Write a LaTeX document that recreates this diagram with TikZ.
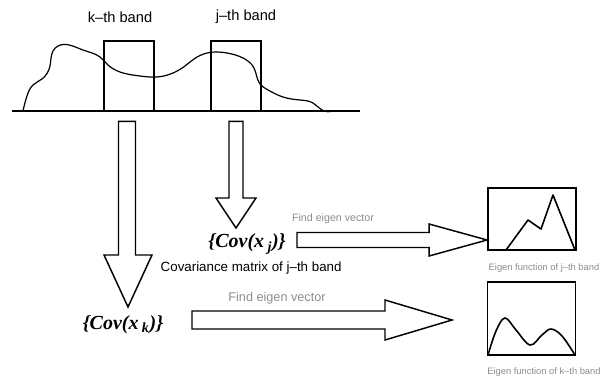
\documentclass[tikz,border=0pt]{standalone}
\usepackage{fontspec}
\setmainfont{Liberation Sans}
\newfontfamily\covfont{Liberation Serif}
\usetikzlibrary{hobby,calc}

\begin{document}
\begin{tikzpicture}[use Hobby shortcut, x=0.75pt, y=-0.75pt]
        \tikzset{bandbox/.style={
            draw,
            line width=2pt,
            minimum width=37.5pt,
            minimum height=52.5pt,
            inner sep=0pt
        }}
        \tikzset{chart/.style={
            draw,
            line width=1.4pt,
            minimum width=66pt,
            inner sep=0pt
        }}
        \tikzset{hollow/.style={
            draw,
            line width=1.1pt,
            fill=white,
            line join=miter
        }}
        \tikzset{bandlabel/.style={font=\fontsize{11}{13}\selectfont}}
        \tikzset{cov/.style={font=\fontsize{15}{17}\selectfont\covfont\bfseries\itshape}}
        \tikzset{faint/.style={text=black!45, font=\fontsize{7}{8}\selectfont}}
        \useasboundingbox (0,0) rectangle (606,378);

        % spectrum with the two bands
        \coordinate (axisL) at (12,111);
        \coordinate (axisR) at (360,111);
        \draw[line width=0.9pt] (axisL) -- (axisR);
        \draw[line width=0.9pt] (23,111) .. (27,96) .. (33,85) .. (42,79) .. (50,66) .. (53,51) .. (58,46)
            .. (83,50) .. (100,57) .. (108,65) .. (120,72) .. (140,76) .. (157,77) .. (173,73)
            .. (185,66) .. (194,59) .. (207,53) .. (227,53) .. (243,58) .. (254,68) .. (260,84)
            .. (268,90) .. (283,97) .. (300,100) .. (313,103) .. (322,110) .. (333,111);
        \node[bandbox] (kband) at (129,76) {};
        \node[bandbox] (jband) at (236,76) {};
        \node[bandlabel] (klabel) at (120,17) {k--th band};
        \node[bandlabel] (jlabel) at (246,17) {j--th band};

        % covariance matrices
        \node[cov] (covj) at (247,244) {\{Cov(x\,\textsubscript{j})\}};
        \node[font=\fontsize{10}{12}\selectfont, anchor=west] (covjtext) at (156,268) {Covariance matrix of j--th band};
        \node[cov] (covk) at (123,325) {\{Cov(x\,\textsubscript{k})\}};

        % eigen vectors
        \node[chart, minimum height=46.5pt] (chartj) at (532,219) {};
        \node[chart, minimum height=54.75pt] (chartk) at (531.5,318.5) {};
        \node[faint] (eigj) at (544,268) {Eigen function of j--th band};
        \node[faint] (eigk) at (544,372) {Eigen function of k--th band};
        \draw[line width=1.2pt, line join=round] (506,250) -- (528,220) -- (541,229) -- (553,195) -- (575,250);
        \draw[line width=1.2pt] plot[smooth, tension=0.6] coordinates {(488,355) (496,331) (505,318)
            (516,330) (530,345) (542,335) (551,329) (562,336) (575,355)};

        % hollow arrows
        \coordinate (ktop) at ($(kband.south)+(-2,9)$);
        \coordinate (ktip) at (128,307);
        \draw[hollow] ($(ktop)+(-8.5,0)$) -- ($(ktip)+(-9.5,-52)$) -- ($(ktip)+(-24,-52)$) -- (ktip)
            -- ($(ktip)+(24,-52)$) -- ($(ktip)+(7.5,-52)$) -- ($(ktop)+(8.5,0)$) -- cycle;
        \coordinate (jtop) at ($(jband.south)+(0,9)$);
        \coordinate (jtip) at (236,228);
        \draw[hollow] ($(jtop)+(-7,0)$) -- ($(jtip)+(-7,-30)$) -- ($(jtip)+(-20,-30)$) -- (jtip)
            -- ($(jtip)+(20,-30)$) -- ($(jtip)+(7,-30)$) -- ($(jtop)+(7,0)$) -- cycle;
        \coordinate (jtail) at (297,240);
        \coordinate (jhead) at (chartj.west |- jtail);
        \draw[hollow] ($(jtail)+(0,-7.5)$) -- ($(jhead)+(-58,-7.5)$) -- ($(jhead)+(-58,-16)$) -- (jhead)
            -- ($(jhead)+(-58,16)$) -- ($(jhead)+(-58,7.5)$) -- ($(jtail)+(0,7.5)$) -- cycle;
        \coordinate (ktail) at (192,320);
        \coordinate (khead) at (452,320);
        \draw[hollow] ($(ktail)+(0,-9)$) -- ($(khead)+(-67,-9)$) -- ($(khead)+(-67,-20)$) -- (khead)
            -- ($(khead)+(-67,20)$) -- ($(khead)+(-67,9)$) -- ($(ktail)+(0,9)$) -- cycle;
        \node[faint, font=\fontsize{8}{10}\selectfont] (findj) at (333,219) {Find eigen vector};
        \node[faint, font=\fontsize{9.5}{11}\selectfont] (findk) at (277,298) {Find eigen vector};
\end{tikzpicture}
\end{document}
